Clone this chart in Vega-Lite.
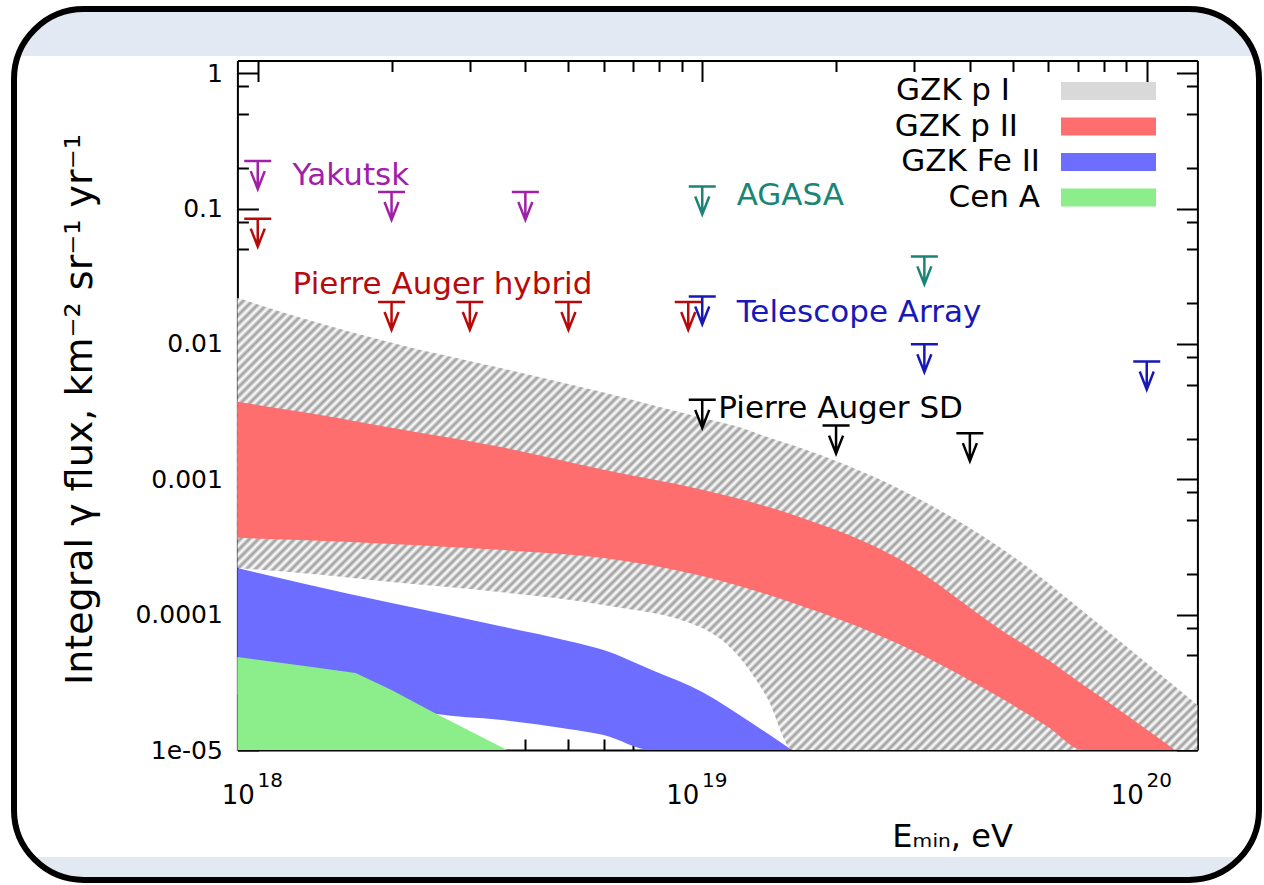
{
  "$schema": "https://vega.github.io/schema/vega-lite/v6.json",
  "width": 1245,
  "height": 871,
  "autosize": {"type": "none"},
  "padding": {"left": 14, "top": 9, "right": 5, "bottom": 5},
  "background": "white",
  "config": {
    "font": "DejaVu Sans",
    "view": {
      "stroke": "black",
      "strokeWidth": 6,
      "cornerRadius": 70,
      "fill": {"gradient": "linear", "x1": 0, "y1": 0, "x2": 0, "y2": 1, "stops": [
        {"offset": 0, "color": "#e2e9f2"}, {"offset": 0.054, "color": "#e2e9f2"},
        {"offset": 0.054, "color": "#ffffff"}, {"offset": 0.9736, "color": "#ffffff"},
        {"offset": 0.9736, "color": "#e2e9f2"}, {"offset": 1, "color": "#e2e9f2"}]}
    },
    "axis": {
      "grid": false, "domainColor": "black", "tickColor": "black", "labelColor": "black",
      "titleColor": "black", "domainWidth": 2, "tickWidth": 2, "labelFlush": false,
      "labelOverlap": false, "zindex": 1, "labelFont": "DejaVu Sans", "titleFont": "DejaVu Sans",
      "titleFontWeight": "normal"
    }
  },
  "datasets": {
    "bands": [
      {"band": "GZK p I", "x": 9e17, "lo": 2.21e-4, "hi": 0.0219},
      {"band": "GZK p I", "x": 1.25e18, "lo": 2.03e-4, "hi": 0.0156},
      {"band": "GZK p I", "x": 2e18, "lo": 1.744e-4, "hi": 0.0102},
      {"band": "GZK p I", "x": 3.5e18, "lo": 1.47e-4, "hi": 0.00665},
      {"band": "GZK p I", "x": 6e18, "lo": 1.18e-4, "hi": 0.00437},
      {"band": "GZK p I", "x": 1e19, "lo": 7.97e-5, "hi": 0.00284},
      {"band": "GZK p I", "x": 1.2e19, "lo": 5.04e-5, "hi": 0.00245},
      {"band": "GZK p I", "x": 1.4e19, "lo": 2.42e-5, "hi": 0.00205},
      {"band": "GZK p I", "x": 1.6e19, "lo": 1e-5, "hi": 0.00178},
      {"band": "GZK p I", "x": 2.8e19, "lo": 1e-5, "hi": 0.000836},
      {"band": "GZK p I", "x": 4.7e19, "lo": 1e-5, "hi": 0.000311},
      {"band": "GZK p I", "x": 8e19, "lo": 1e-5, "hi": 7.98e-5},
      {"band": "GZK p I", "x": 1.3e20, "lo": 1e-5, "hi": 2.15e-5},

      {"band": "GZK p II", "x": 9e17, "lo": 3.69e-4, "hi": 0.00373},
      {"band": "GZK p II", "x": 1.25e18, "lo": 3.56e-4, "hi": 0.00315},
      {"band": "GZK p II", "x": 2e18, "lo": 3.33e-4, "hi": 0.0024},
      {"band": "GZK p II", "x": 3.5e18, "lo": 3.01e-4, "hi": 0.001736},
      {"band": "GZK p II", "x": 6e18, "lo": 2.62e-4, "hi": 0.001174},
      {"band": "GZK p II", "x": 1e19, "lo": 1.93e-4, "hi": 0.000835},
      {"band": "GZK p II", "x": 1.6e19, "lo": 1.22e-4, "hi": 0.000546},
      {"band": "GZK p II", "x": 2.8e19, "lo": 5.97e-5, "hi": 0.000253},
      {"band": "GZK p II", "x": 4.7e19, "lo": 2.42e-5, "hi": 7.71e-5},
      {"band": "GZK p II", "x": 6e19, "lo": 1.48e-5, "hi": 4.62e-5},
      {"band": "GZK p II", "x": 7.2e19, "lo": 1e-5, "hi": 3.02e-5},
      {"band": "GZK p II", "x": 8e19, "lo": 1e-5, "hi": 2.38e-5},
      {"band": "GZK p II", "x": 1.157e20, "lo": 1e-5, "hi": 1e-5},

      {"band": "GZK Fe II", "x": 9e17, "lo": 2.55e-5, "hi": 2.21e-4},
      {"band": "GZK Fe II", "x": 1.25e18, "lo": 2.42e-5, "hi": 1.71e-4},
      {"band": "GZK Fe II", "x": 2e18, "lo": 2.15e-5, "hi": 1.22e-4},
      {"band": "GZK Fe II", "x": 2.5e18, "lo": 1.85e-5, "hi": 1.047e-4},
      {"band": "GZK Fe II", "x": 3.5e18, "lo": 1.67e-5, "hi": 8.25e-5},
      {"band": "GZK Fe II", "x": 5e18, "lo": 1.43e-5, "hi": 6.39e-5},
      {"band": "GZK Fe II", "x": 6e18, "lo": 1.29e-5, "hi": 5.48e-5},
      {"band": "GZK Fe II", "x": 7.7e18, "lo": 1e-5, "hi": 3.9e-5},
      {"band": "GZK Fe II", "x": 1e19, "lo": 1e-5, "hi": 2.68e-5},
      {"band": "GZK Fe II", "x": 1.3e19, "lo": 1e-5, "hi": 1.56e-5},
      {"band": "GZK Fe II", "x": 1.59e19, "lo": 1e-5, "hi": 1e-5},

      {"band": "Cen A", "x": 9e17, "lo": 1e-5, "hi": 4.87e-5},
      {"band": "Cen A", "x": 1.25e18, "lo": 1e-5, "hi": 4.21e-5},
      {"band": "Cen A", "x": 1.66e18, "lo": 1e-5, "hi": 3.71e-5},
      {"band": "Cen A", "x": 2e18, "lo": 1e-5, "hi": 2.78e-5},
      {"band": "Cen A", "x": 2.5e18, "lo": 1e-5, "hi": 1.88e-5},
      {"band": "Cen A", "x": 3.64e18, "lo": 1e-5, "hi": 1e-5}
    ],
    "limits": [
      {"exp": "Yakutsk", "x": 1e18, "y": 0.224},
      {"exp": "Yakutsk", "x": 2e18, "y": 0.1325},
      {"exp": "Yakutsk", "x": 4e18, "y": 0.1325},
      {"exp": "Pierre Auger hybrid", "x": 1e18, "y": 0.0842},
      {"exp": "Pierre Auger hybrid", "x": 2e18, "y": 0.0204},
      {"exp": "Pierre Auger hybrid", "x": 3e18, "y": 0.0204},
      {"exp": "Pierre Auger hybrid", "x": 5e18, "y": 0.0204},
      {"exp": "Pierre Auger hybrid", "x": 9.3e18, "y": 0.0204},
      {"exp": "AGASA", "x": 1e19, "y": 0.1455},
      {"exp": "AGASA", "x": 3.16e19, "y": 0.0443},
      {"exp": "Telescope Array", "x": 1e19, "y": 0.0224},
      {"exp": "Telescope Array", "x": 3.16e19, "y": 0.00995},
      {"exp": "Telescope Array", "x": 1e20, "y": 0.00741},
      {"exp": "Pierre Auger SD", "x": 1e19, "y": 0.00386},
      {"exp": "Pierre Auger SD", "x": 2e19, "y": 0.00249},
      {"exp": "Pierre Auger SD", "x": 4e19, "y": 0.00219}
    ],
    "labels": [
      {"exp": "Yakutsk", "text": "Yakutsk", "x": 1.198e18, "y": 0.150},
      {"exp": "Pierre Auger hybrid", "text": "Pierre Auger hybrid", "x": 1.198e18, "y": 0.02344},
      {"exp": "AGASA", "text": "AGASA", "x": 1.195e19, "y": 0.1067},
      {"exp": "Telescope Array", "text": "Telescope Array", "x": 1.195e19, "y": 0.01439},
      {"exp": "Pierre Auger SD", "text": "Pierre Auger SD", "x": 1.087e19, "y": 0.00283}
    ]
  },
  "resolve": {"axis": {"x": "independent", "y": "independent"}},
  "layer": [
    {
      "data": {"name": "bands"},
      "transform": [{"filter": "datum.band == 'GZK p I'"}],
      "mark": {"type": "area", "interpolate": "monotone", "opacity": 1,
        "fill": {"gradient": "linear", "x1": 0, "y1": 0, "x2": 1.204, "y2": 0.5668, "stops": [
          {"offset":0,"color":"#9c9c9c"},{"offset":0.0032,"color":"#fff"},{"offset":0.0064,"color":"#9c9c9c"},{"offset":0.0096,"color":"#fff"},{"offset":0.0128,"color":"#9c9c9c"},{"offset":0.016,"color":"#fff"},{"offset":0.0192,"color":"#9c9c9c"},{"offset":0.0224,"color":"#fff"},{"offset":0.0256,"color":"#9c9c9c"},{"offset":0.0288,"color":"#fff"},
          {"offset":0.032,"color":"#9c9c9c"},{"offset":0.0352,"color":"#fff"},{"offset":0.0384,"color":"#9c9c9c"},{"offset":0.0416,"color":"#fff"},{"offset":0.0448,"color":"#9c9c9c"},{"offset":0.048,"color":"#fff"},{"offset":0.0512,"color":"#9c9c9c"},{"offset":0.0544,"color":"#fff"},{"offset":0.0576,"color":"#9c9c9c"},{"offset":0.0608,"color":"#fff"},
          {"offset":0.064,"color":"#9c9c9c"},{"offset":0.0672,"color":"#fff"},{"offset":0.0704,"color":"#9c9c9c"},{"offset":0.0736,"color":"#fff"},{"offset":0.0768,"color":"#9c9c9c"},{"offset":0.08,"color":"#fff"},{"offset":0.0832,"color":"#9c9c9c"},{"offset":0.0864,"color":"#fff"},{"offset":0.0896,"color":"#9c9c9c"},{"offset":0.0928,"color":"#fff"},
          {"offset":0.096,"color":"#9c9c9c"},{"offset":0.0992,"color":"#fff"},{"offset":0.1024,"color":"#9c9c9c"},{"offset":0.1056,"color":"#fff"},{"offset":0.1088,"color":"#9c9c9c"},{"offset":0.112,"color":"#fff"},{"offset":0.1152,"color":"#9c9c9c"},{"offset":0.1184,"color":"#fff"},{"offset":0.1216,"color":"#9c9c9c"},{"offset":0.1248,"color":"#fff"},
          {"offset":0.128,"color":"#9c9c9c"},{"offset":0.1312,"color":"#fff"},{"offset":0.1344,"color":"#9c9c9c"},{"offset":0.1376,"color":"#fff"},{"offset":0.1408,"color":"#9c9c9c"},{"offset":0.144,"color":"#fff"},{"offset":0.1472,"color":"#9c9c9c"},{"offset":0.1504,"color":"#fff"},{"offset":0.1536,"color":"#9c9c9c"},{"offset":0.1568,"color":"#fff"},
          {"offset":0.16,"color":"#9c9c9c"},{"offset":0.1632,"color":"#fff"},{"offset":0.1664,"color":"#9c9c9c"},{"offset":0.1696,"color":"#fff"},{"offset":0.1728,"color":"#9c9c9c"},{"offset":0.176,"color":"#fff"},{"offset":0.1792,"color":"#9c9c9c"},{"offset":0.1824,"color":"#fff"},{"offset":0.1856,"color":"#9c9c9c"},{"offset":0.1888,"color":"#fff"},
          {"offset":0.192,"color":"#9c9c9c"},{"offset":0.1952,"color":"#fff"},{"offset":0.1984,"color":"#9c9c9c"},{"offset":0.2016,"color":"#fff"},{"offset":0.2048,"color":"#9c9c9c"},{"offset":0.208,"color":"#fff"},{"offset":0.2112,"color":"#9c9c9c"},{"offset":0.2144,"color":"#fff"},{"offset":0.2176,"color":"#9c9c9c"},{"offset":0.2208,"color":"#fff"},
          {"offset":0.224,"color":"#9c9c9c"},{"offset":0.2272,"color":"#fff"},{"offset":0.2304,"color":"#9c9c9c"},{"offset":0.2336,"color":"#fff"},{"offset":0.2368,"color":"#9c9c9c"},{"offset":0.24,"color":"#fff"},{"offset":0.2432,"color":"#9c9c9c"},{"offset":0.2464,"color":"#fff"},{"offset":0.2496,"color":"#9c9c9c"},{"offset":0.2528,"color":"#fff"},
          {"offset":0.256,"color":"#9c9c9c"},{"offset":0.2592,"color":"#fff"},{"offset":0.2624,"color":"#9c9c9c"},{"offset":0.2656,"color":"#fff"},{"offset":0.2688,"color":"#9c9c9c"},{"offset":0.272,"color":"#fff"},{"offset":0.2752,"color":"#9c9c9c"},{"offset":0.2784,"color":"#fff"},{"offset":0.2816,"color":"#9c9c9c"},{"offset":0.2848,"color":"#fff"},
          {"offset":0.288,"color":"#9c9c9c"},{"offset":0.2912,"color":"#fff"},{"offset":0.2944,"color":"#9c9c9c"},{"offset":0.2976,"color":"#fff"},{"offset":0.3008,"color":"#9c9c9c"},{"offset":0.304,"color":"#fff"},{"offset":0.3072,"color":"#9c9c9c"},{"offset":0.3104,"color":"#fff"},{"offset":0.3136,"color":"#9c9c9c"},{"offset":0.3168,"color":"#fff"},
          {"offset":0.32,"color":"#9c9c9c"},{"offset":0.3232,"color":"#fff"},{"offset":0.3264,"color":"#9c9c9c"},{"offset":0.3296,"color":"#fff"},{"offset":0.3328,"color":"#9c9c9c"},{"offset":0.336,"color":"#fff"},{"offset":0.3392,"color":"#9c9c9c"},{"offset":0.3424,"color":"#fff"},{"offset":0.3456,"color":"#9c9c9c"},{"offset":0.3488,"color":"#fff"},
          {"offset":0.352,"color":"#9c9c9c"},{"offset":0.3552,"color":"#fff"},{"offset":0.3584,"color":"#9c9c9c"},{"offset":0.3616,"color":"#fff"},{"offset":0.3648,"color":"#9c9c9c"},{"offset":0.368,"color":"#fff"},{"offset":0.3712,"color":"#9c9c9c"},{"offset":0.3744,"color":"#fff"},{"offset":0.3776,"color":"#9c9c9c"},{"offset":0.3808,"color":"#fff"},
          {"offset":0.384,"color":"#9c9c9c"},{"offset":0.3872,"color":"#fff"},{"offset":0.3904,"color":"#9c9c9c"},{"offset":0.3936,"color":"#fff"},{"offset":0.3968,"color":"#9c9c9c"},{"offset":0.4,"color":"#fff"},{"offset":0.4032,"color":"#9c9c9c"},{"offset":0.4064,"color":"#fff"},{"offset":0.4096,"color":"#9c9c9c"},{"offset":0.4128,"color":"#fff"},
          {"offset":0.416,"color":"#9c9c9c"},{"offset":0.4192,"color":"#fff"},{"offset":0.4224,"color":"#9c9c9c"},{"offset":0.4256,"color":"#fff"},{"offset":0.4288,"color":"#9c9c9c"},{"offset":0.432,"color":"#fff"},{"offset":0.4352,"color":"#9c9c9c"},{"offset":0.4384,"color":"#fff"},{"offset":0.4416,"color":"#9c9c9c"},{"offset":0.4448,"color":"#fff"},
          {"offset":0.448,"color":"#9c9c9c"},{"offset":0.4512,"color":"#fff"},{"offset":0.4544,"color":"#9c9c9c"},{"offset":0.4576,"color":"#fff"},{"offset":0.4608,"color":"#9c9c9c"},{"offset":0.464,"color":"#fff"},{"offset":0.4672,"color":"#9c9c9c"},{"offset":0.4704,"color":"#fff"},{"offset":0.4736,"color":"#9c9c9c"},{"offset":0.4768,"color":"#fff"},
          {"offset":0.48,"color":"#9c9c9c"},{"offset":0.4832,"color":"#fff"},{"offset":0.4864,"color":"#9c9c9c"},{"offset":0.4896,"color":"#fff"},{"offset":0.4928,"color":"#9c9c9c"},{"offset":0.496,"color":"#fff"},{"offset":0.4992,"color":"#9c9c9c"},{"offset":0.5024,"color":"#fff"},{"offset":0.5056,"color":"#9c9c9c"},{"offset":0.5088,"color":"#fff"},
          {"offset":0.512,"color":"#9c9c9c"},{"offset":0.5152,"color":"#fff"},{"offset":0.5184,"color":"#9c9c9c"},{"offset":0.5216,"color":"#fff"},{"offset":0.5248,"color":"#9c9c9c"},{"offset":0.528,"color":"#fff"},{"offset":0.5312,"color":"#9c9c9c"},{"offset":0.5344,"color":"#fff"},{"offset":0.5376,"color":"#9c9c9c"},{"offset":0.5408,"color":"#fff"},
          {"offset":0.544,"color":"#9c9c9c"},{"offset":0.5472,"color":"#fff"},{"offset":0.5504,"color":"#9c9c9c"},{"offset":0.5536,"color":"#fff"},{"offset":0.5568,"color":"#9c9c9c"},{"offset":0.56,"color":"#fff"},{"offset":0.5632,"color":"#9c9c9c"},{"offset":0.5664,"color":"#fff"},{"offset":0.5696,"color":"#9c9c9c"},{"offset":0.5728,"color":"#fff"},
          {"offset":0.576,"color":"#9c9c9c"},{"offset":0.5792,"color":"#fff"},{"offset":0.5824,"color":"#9c9c9c"},{"offset":0.5856,"color":"#fff"},{"offset":0.5888,"color":"#9c9c9c"},{"offset":0.592,"color":"#fff"},{"offset":0.5952,"color":"#9c9c9c"},{"offset":0.5984,"color":"#fff"},{"offset":0.6016,"color":"#9c9c9c"},{"offset":0.6048,"color":"#fff"},
          {"offset":0.608,"color":"#9c9c9c"},{"offset":0.6112,"color":"#fff"},{"offset":0.6144,"color":"#9c9c9c"},{"offset":0.6176,"color":"#fff"},{"offset":0.6208,"color":"#9c9c9c"},{"offset":0.624,"color":"#fff"},{"offset":0.6272,"color":"#9c9c9c"},{"offset":0.6304,"color":"#fff"},{"offset":0.6336,"color":"#9c9c9c"},{"offset":0.6368,"color":"#fff"},
          {"offset":0.64,"color":"#9c9c9c"},{"offset":0.6432,"color":"#fff"},{"offset":0.6464,"color":"#9c9c9c"},{"offset":0.6496,"color":"#fff"},{"offset":0.6528,"color":"#9c9c9c"},{"offset":0.656,"color":"#fff"},{"offset":0.6592,"color":"#9c9c9c"},{"offset":0.6624,"color":"#fff"},{"offset":0.6656,"color":"#9c9c9c"},{"offset":0.6688,"color":"#fff"},
          {"offset":0.672,"color":"#9c9c9c"},{"offset":0.6752,"color":"#fff"},{"offset":0.6784,"color":"#9c9c9c"},{"offset":0.6816,"color":"#fff"},{"offset":0.6848,"color":"#9c9c9c"},{"offset":0.688,"color":"#fff"},{"offset":0.6912,"color":"#9c9c9c"},{"offset":0.6944,"color":"#fff"},{"offset":0.6976,"color":"#9c9c9c"},{"offset":0.7008,"color":"#fff"},
          {"offset":0.704,"color":"#9c9c9c"},{"offset":0.7072,"color":"#fff"},{"offset":0.7104,"color":"#9c9c9c"},{"offset":0.7136,"color":"#fff"},{"offset":0.7168,"color":"#9c9c9c"},{"offset":0.72,"color":"#fff"},{"offset":0.7232,"color":"#9c9c9c"},{"offset":0.7264,"color":"#fff"},{"offset":0.7296,"color":"#9c9c9c"},{"offset":0.7328,"color":"#fff"},
          {"offset":0.736,"color":"#9c9c9c"},{"offset":0.7392,"color":"#fff"},{"offset":0.7424,"color":"#9c9c9c"},{"offset":0.7456,"color":"#fff"},{"offset":0.7488,"color":"#9c9c9c"},{"offset":0.752,"color":"#fff"},{"offset":0.7552,"color":"#9c9c9c"},{"offset":0.7584,"color":"#fff"},{"offset":0.7616,"color":"#9c9c9c"},{"offset":0.7648,"color":"#fff"},
          {"offset":0.768,"color":"#9c9c9c"},{"offset":0.7712,"color":"#fff"},{"offset":0.7744,"color":"#9c9c9c"},{"offset":0.7776,"color":"#fff"},{"offset":0.7808,"color":"#9c9c9c"},{"offset":0.784,"color":"#fff"},{"offset":0.7872,"color":"#9c9c9c"},{"offset":0.7904,"color":"#fff"},{"offset":0.7936,"color":"#9c9c9c"},{"offset":0.7968,"color":"#fff"},
          {"offset":0.8,"color":"#9c9c9c"},{"offset":0.8032,"color":"#fff"},{"offset":0.8064,"color":"#9c9c9c"},{"offset":0.8096,"color":"#fff"},{"offset":0.8128,"color":"#9c9c9c"},{"offset":0.816,"color":"#fff"},{"offset":0.8192,"color":"#9c9c9c"},{"offset":0.8224,"color":"#fff"},{"offset":0.8256,"color":"#9c9c9c"},{"offset":0.8288,"color":"#fff"},
          {"offset":0.832,"color":"#9c9c9c"},{"offset":0.8352,"color":"#fff"},{"offset":0.8384,"color":"#9c9c9c"},{"offset":0.8416,"color":"#fff"},{"offset":0.8448,"color":"#9c9c9c"},{"offset":0.848,"color":"#fff"},{"offset":0.8512,"color":"#9c9c9c"},{"offset":0.8544,"color":"#fff"},{"offset":0.8576,"color":"#9c9c9c"},{"offset":0.8608,"color":"#fff"},
          {"offset":0.864,"color":"#9c9c9c"},{"offset":0.8672,"color":"#fff"},{"offset":0.8704,"color":"#9c9c9c"},{"offset":0.8736,"color":"#fff"},{"offset":0.8768,"color":"#9c9c9c"},{"offset":0.88,"color":"#fff"},{"offset":0.8832,"color":"#9c9c9c"},{"offset":0.8864,"color":"#fff"},{"offset":0.8896,"color":"#9c9c9c"},{"offset":0.8928,"color":"#fff"},
          {"offset":0.896,"color":"#9c9c9c"},{"offset":0.8992,"color":"#fff"},{"offset":0.9024,"color":"#9c9c9c"},{"offset":0.9056,"color":"#fff"},{"offset":0.9088,"color":"#9c9c9c"},{"offset":0.912,"color":"#fff"},{"offset":0.9152,"color":"#9c9c9c"},{"offset":0.9184,"color":"#fff"},{"offset":0.9216,"color":"#9c9c9c"},{"offset":0.9248,"color":"#fff"},
          {"offset":0.928,"color":"#9c9c9c"},{"offset":0.9312,"color":"#fff"},{"offset":0.9344,"color":"#9c9c9c"},{"offset":0.9376,"color":"#fff"},{"offset":0.9408,"color":"#9c9c9c"},{"offset":0.944,"color":"#fff"},{"offset":0.9472,"color":"#9c9c9c"},{"offset":0.9504,"color":"#fff"},{"offset":0.9536,"color":"#9c9c9c"},{"offset":0.9568,"color":"#fff"},
          {"offset":0.96,"color":"#9c9c9c"},{"offset":0.9632,"color":"#fff"},{"offset":0.9664,"color":"#9c9c9c"},{"offset":0.9696,"color":"#fff"},{"offset":0.9728,"color":"#9c9c9c"},{"offset":0.976,"color":"#fff"},{"offset":0.9792,"color":"#9c9c9c"},{"offset":0.9824,"color":"#fff"},{"offset":0.9856,"color":"#9c9c9c"},{"offset":0.9888,"color":"#fff"},
          {"offset":0.992,"color":"#9c9c9c"},{"offset":0.9952,"color":"#fff"},{"offset":0.9984,"color":"#9c9c9c"},{"offset":1,"color":"#fff"}]}},
      "encoding": {
        "x": {"field": "x", "type": "quantitative",
          "scale": {"type": "log", "domain": [9e17, 1.3e20], "range": [223.4, 1183.4], "clamp": true, "nice": false},
          "axis": {"orient": "bottom", "offset": -130, "values": [1e18, 1e19, 1e20], "labelExpr": "'10'",
            "labelFontSize": 26, "labelOffset": -20, "labelAlign": "center", "labelBaseline": "alphabetic", "labelPadding": 53,
            "ticks": false, "domain": true, "title": "Eₘᵢₙ, eV", "titleFontSize": 32, "titleX": 938, "titleY": 96,
            "titleAlign": "center", "titleBaseline": "alphabetic"}},
        "y": {"field": "hi", "type": "quantitative",
          "scale": {"type": "log", "domain": [1e-5, 1.24], "range": [741, 51.5], "clamp": true, "nice": false},
          "axis": {"orient": "left", "offset": -223.4, "values": [1e-5, 1e-4, 0.001, 0.01, 0.1, 1],
            "labelExpr": "datum.value < 5e-5 ? '1e-05' : format(datum.value, '~g')",
            "labelFontSize": 25, "labelPadding": 15, "ticks": false, "domain": true,
            "title": "Integral γ flux, km⁻² sr⁻¹ yr⁻¹", "titleFontSize": 38, "titleX": -146, "titleY": 400,
            "titleAngle": -90, "titleAlign": "center", "titleBaseline": "alphabetic"}},
        "y2": {"field": "lo"}
      }
    },
    {
      "data": {"name": "bands"},
      "transform": [{"filter": "datum.band == 'GZK p II'"}],
      "mark": {"type": "area", "interpolate": "monotone", "opacity": 1},
      "encoding": {
        "x": {"field": "x", "type": "quantitative",
          "scale": {"type": "log", "domain": [9e17, 1.3e20], "range": [223.4, 1183.4], "clamp": true, "nice": false},
          "axis": {"orient": "bottom", "offset": -130, "values": [1e18, 1e19, 1e20],
            "labelExpr": "datum.value < 5e18 ? '18' : datum.value < 5e19 ? '19' : '20'",
            "labelFontSize": 20, "labelOffset": 12, "labelAlign": "center", "labelBaseline": "alphabetic", "labelPadding": 36,
            "ticks": false, "domain": false, "title": null}},
        "y": {"field": "hi", "type": "quantitative",
          "scale": {"type": "log", "domain": [1e-5, 1.24], "range": [741, 51.5], "clamp": true, "nice": false},
          "axis": {"orient": "left", "offset": -223.4, "values": [1e-5, 1e-4, 0.001, 0.01, 0.1, 1],
            "labels": false, "tickSize": -21, "domain": false, "title": null}},
        "y2": {"field": "lo"},
        "color": {"field": "band", "type": "nominal",
          "scale": {"domain": ["GZK p I", "GZK p II", "GZK Fe II", "Cen A"], "range": ["#d9d9d9", "#ff6e6e", "#6d6dff", "#8bee8b"]},
          "legend": {"title": null, "orient": "none", "legendX": 1079, "legendY": 66.5, "direction": "vertical",
            "symbolType": "M-5,-0.95H5V0.95H-5Z", "symbolSize": 361, "symbolStrokeWidth": 0, "symbolOpacity": 1,
            "labelAlign": "right", "labelOffset": -84, "labelFontSize": 31, "labelFont": "DejaVu Sans",
            "labelColor": "black", "labelLimit": 0, "rowPadding": 3.5, "padding": 0,
            "encode": {"labels": {"update": {"dx": {"signal": "datum.label == 'GZK p I' ? -30 : datum.label == 'GZK p II' ? -22 : 0"}}}}}}
      }
    },
    {
      "data": {"name": "bands"},
      "transform": [{"filter": "datum.band == 'GZK Fe II'"}],
      "mark": {"type": "area", "interpolate": "monotone", "opacity": 1},
      "encoding": {
        "x": {"field": "x", "type": "quantitative",
          "scale": {"type": "log", "domain": [9e17, 1.3e20], "range": [223.4, 1183.4], "clamp": true, "nice": false},
          "axis": {"orient": "bottom", "offset": -130, "values": [1e18, 1e19, 1e20],
            "labels": false, "tickSize": -21, "domain": false, "title": null}},
        "y": {"field": "hi", "type": "quantitative",
          "scale": {"type": "log", "domain": [1e-5, 1.24], "range": [741, 51.5], "clamp": true, "nice": false},
          "axis": {"orient": "left", "offset": -223.4,
            "values": [2e-5, 5e-5, 8e-5, 2e-4, 5e-4, 8e-4, 0.002, 0.005, 0.008, 0.02, 0.05, 0.08, 0.2, 0.5, 0.8],
            "labels": false, "tickSize": -11, "domain": false, "title": null}},
        "y2": {"field": "lo"},
        "color": {"field": "band", "type": "nominal",
          "scale": {"domain": ["GZK p I", "GZK p II", "GZK Fe II", "Cen A"], "range": ["#d9d9d9", "#ff6e6e", "#6d6dff", "#8bee8b"]},
          "legend": null}
      }
    },
    {
      "data": {"name": "bands"},
      "transform": [{"filter": "datum.band == 'Cen A'"}],
      "mark": {"type": "area", "interpolate": "linear", "opacity": 1},
      "encoding": {
        "x": {"field": "x", "type": "quantitative",
          "scale": {"type": "log", "domain": [9e17, 1.3e20], "range": [223.4, 1183.4], "clamp": true, "nice": false},
          "axis": {"orient": "bottom", "offset": -130,
            "values": [2e18, 3e18, 4e18, 5e18, 6e18, 7e18, 8e18, 9e18, 2e19, 3e19, 4e19, 5e19, 6e19, 7e19, 8e19, 9e19],
            "labels": false, "tickSize": -11, "domain": false, "title": null}},
        "y": {"field": "hi", "type": "quantitative",
          "scale": {"type": "log", "domain": [1e-5, 1.24], "range": [741, 51.5], "clamp": true, "nice": false},
          "axis": {"orient": "right", "offset": -61.6, "values": [1e-5, 1e-4, 0.001, 0.01, 0.1, 1],
            "labels": false, "tickSize": -21, "domain": true, "title": null}},
        "y2": {"field": "lo"},
        "color": {"field": "band", "type": "nominal",
          "scale": {"domain": ["GZK p I", "GZK p II", "GZK Fe II", "Cen A"], "range": ["#d9d9d9", "#ff6e6e", "#6d6dff", "#8bee8b"]},
          "legend": null}
      }
    },
    {
      "data": {"name": "limits"},
      "mark": {"type": "point", "shape": "M-1,0H1M0,0V2.07M-0.52,0.74L0,2.07L0.52,0.74", "size": 729,
        "filled": false, "strokeWidth": 2.5, "opacity": 1},
      "encoding": {
        "x": {"field": "x", "type": "quantitative",
          "scale": {"type": "log", "domain": [9e17, 1.3e20], "range": [223.4, 1183.4], "clamp": true, "nice": false},
          "axis": {"orient": "top", "offset": -51.5, "values": [1e18, 1e19, 1e20],
            "labels": false, "tickSize": -21, "domain": true, "title": null}},
        "y": {"field": "y", "type": "quantitative",
          "scale": {"type": "log", "domain": [1e-5, 1.24], "range": [741, 51.5], "clamp": true, "nice": false},
          "axis": {"orient": "right", "offset": -61.6,
            "values": [2e-5, 5e-5, 8e-5, 2e-4, 5e-4, 8e-4, 0.002, 0.005, 0.008, 0.02, 0.05, 0.08, 0.2, 0.5, 0.8],
            "labels": false, "tickSize": -11, "domain": false, "title": null}},
        "stroke": {"field": "exp", "type": "nominal",
          "scale": {"domain": ["Yakutsk", "Pierre Auger hybrid", "AGASA", "Telescope Array", "Pierre Auger SD"],
            "range": ["#a020a8", "#b80a0a", "#1a8575", "#1818b8", "#000000"]},
          "legend": null}
      }
    },
    {
      "data": {"name": "labels"},
      "mark": {"type": "text", "align": "left", "baseline": "alphabetic", "font": "DejaVu Sans", "fontSize": 31},
      "encoding": {
        "x": {"field": "x", "type": "quantitative",
          "scale": {"type": "log", "domain": [9e17, 1.3e20], "range": [223.4, 1183.4], "clamp": true, "nice": false},
          "axis": {"orient": "top", "offset": -51.5,
            "values": [2e18, 3e18, 4e18, 5e18, 6e18, 7e18, 8e18, 9e18, 2e19, 3e19, 4e19, 5e19, 6e19, 7e19, 8e19, 9e19],
            "labels": false, "tickSize": -11, "domain": false, "title": null}},
        "y": {"field": "y", "type": "quantitative",
          "scale": {"type": "log", "domain": [1e-5, 1.24], "range": [741, 51.5], "clamp": true, "nice": false},
          "axis": null},
        "text": {"field": "text"},
        "fill": {"field": "exp", "type": "nominal",
          "scale": {"domain": ["Yakutsk", "Pierre Auger hybrid", "AGASA", "Telescope Array", "Pierre Auger SD"],
            "range": ["#a020a8", "#b80a0a", "#1a8575", "#1818b8", "#000000"]},
          "legend": null}
      }
    }
  ]
}
